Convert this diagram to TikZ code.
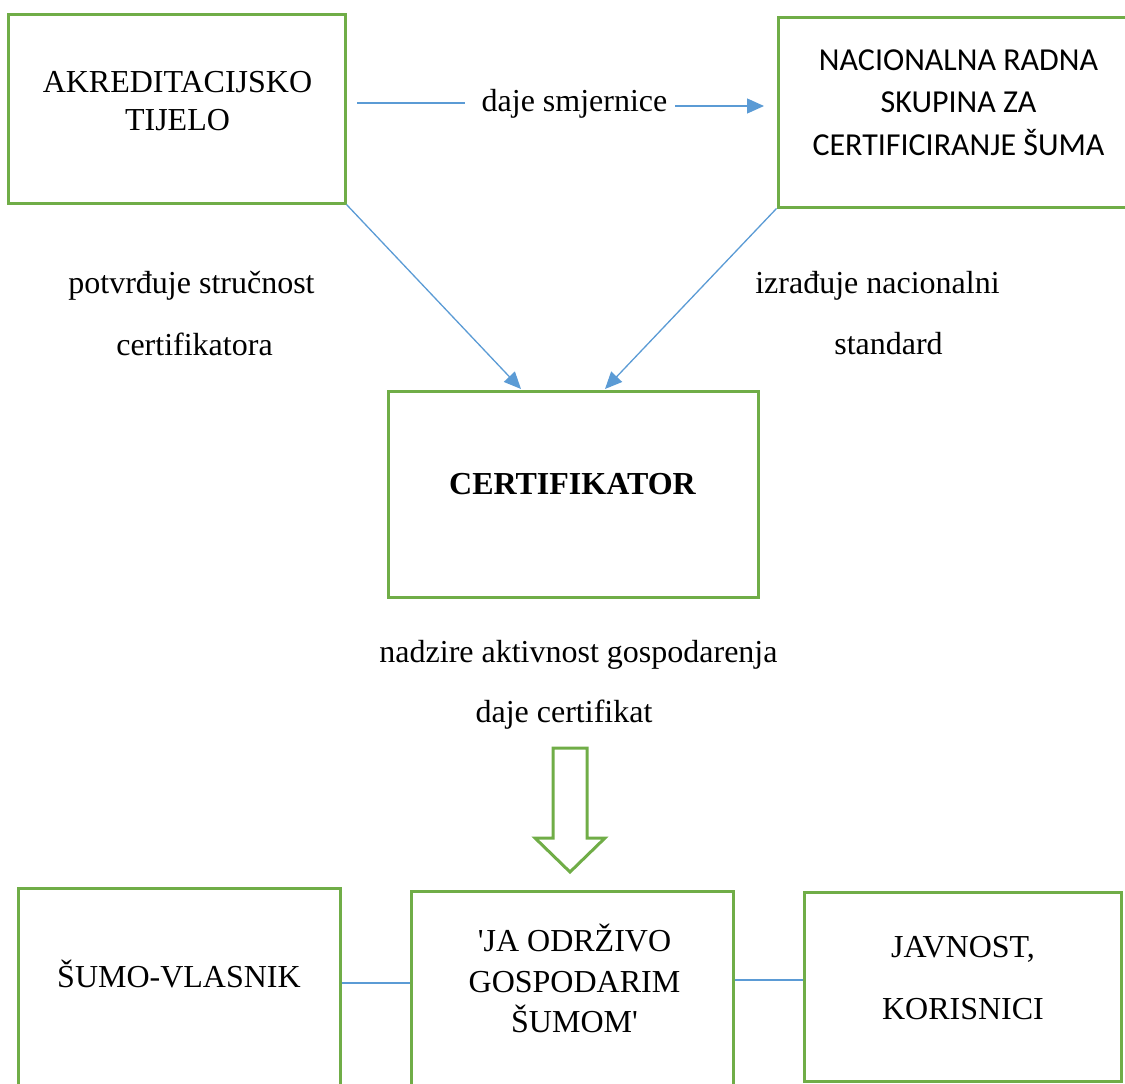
\documentclass[tikz,border=0pt]{standalone}
\usepackage{fontspec}
\setmainfont{Liberation Serif}
\newfontfamily\calibri{Carlito}
\usetikzlibrary{arrows.meta}
\definecolor{boxgreen}{HTML}{70AD47}
\definecolor{lineblue}{HTML}{5B9BD5}
\begin{document}
\begin{tikzpicture}[x=1pt,y=-1pt,
  box/.style={draw=boxgreen, line width=3pt, inner sep=0pt},
  txt/.style={font=\fontsize{32}{38}\selectfont, align=center, inner sep=0pt},
  conn/.style={draw=lineblue, line width=1.3pt},
  connarr/.style={conn, -{Triangle[length=17pt,width=15pt]}}]
\useasboundingbox (0,0) rectangle (1125,1084);
\node[box, minimum width=337, minimum height=189] (akr) at (176.5,108.5){};
\node[box, minimum width=350, minimum height=190] (nrs) at (953,112){};
\node[box, minimum width=370, minimum height=206] (cert) at (573,494){};
\node[box, minimum width=322, minimum height=204] (vlas) at (179,990){};
\node[box, minimum width=322, minimum height=201] (odrz) at (572,991.5){};
\node[box, minimum width=317, minimum height=189] (javn) at (962.5,986.5){};
\node[txt, font=\fontsize{32}{37.5}\selectfont] (akrtxt) at (177.5,101){AKREDITACIJSKO\\TIJELO};
\node[txt, font=\calibri\fontsize{32}{42.5}\selectfont] (nrstxt) at (958.5,102.5){NACIONALNA RADNA\\SKUPINA ZA\\CERTIFICIRANJE ŠUMA};
\node[txt, anchor=base] (smj) at (574.5,111){daje smjernice};
\node[txt, anchor=base] (potv1) at (191.5,293){potvrđuje stručnost};
\node[txt, anchor=base] (potv2) at (194.5,355){certifikatora};
\node[txt, anchor=base] (izr1) at (877.5,293){izrađuje nacionalni};
\node[txt, anchor=base] (izr2) at (888.5,354){standard};
\node[txt, anchor=base, font=\fontsize{32}{38}\selectfont\bfseries] (certtxt) at (572.5,494){CERTIFIKATOR};
\node[txt, anchor=base] (nadz1) at (578.5,662){nadzire aktivnost gospodarenja};
\node[txt, anchor=base] (nadz2) at (564,722){daje certifikat};
\node[txt, anchor=base] (vlastxt) at (179,987){ŠUMO-VLASNIK};
\node[txt, font=\fontsize{32}{40.5}\selectfont] (odrztxt) at (574.5,978.5){\textquotesingle JA ODRŽIVO\\GOSPODARIM\\ŠUMOM\textquotesingle};
\node[txt, font=\fontsize{32}{62}\selectfont] (javntxt) at (963,978.5){JAVNOST,\\KORISNICI};
\coordinate (h1) at (357,103);
\coordinate (h2) at (465,103);
\coordinate (h3) at (675,106);
\coordinate (h4) at (764,106);
\coordinate (c1) at (521,389);
\coordinate (c2) at (605,389);
\coordinate (dn) at (570,748);
\draw[conn] (h1) -- (h2);
\draw[connarr] (h3) -- (h4);
\draw[connarr] (akr.south east) -- (c1);
\draw[connarr] (nrs.south west) -- (c2);
\draw[conn] ([yshift=7pt]vlas.east) -- ([yshift=8.5pt]odrz.west);
\draw[conn] ([yshift=11.5pt]odrz.east) -- ([yshift=6.5pt]javn.west);
\draw[draw=boxgreen, line width=3pt, line join=miter] (dn) +(-17,0) -- +(17,0) -- +(17,90) -- +(35,90) -- +(0,124) -- +(-35,90) -- +(-17,90) -- cycle;
\end{tikzpicture}
\end{document}
